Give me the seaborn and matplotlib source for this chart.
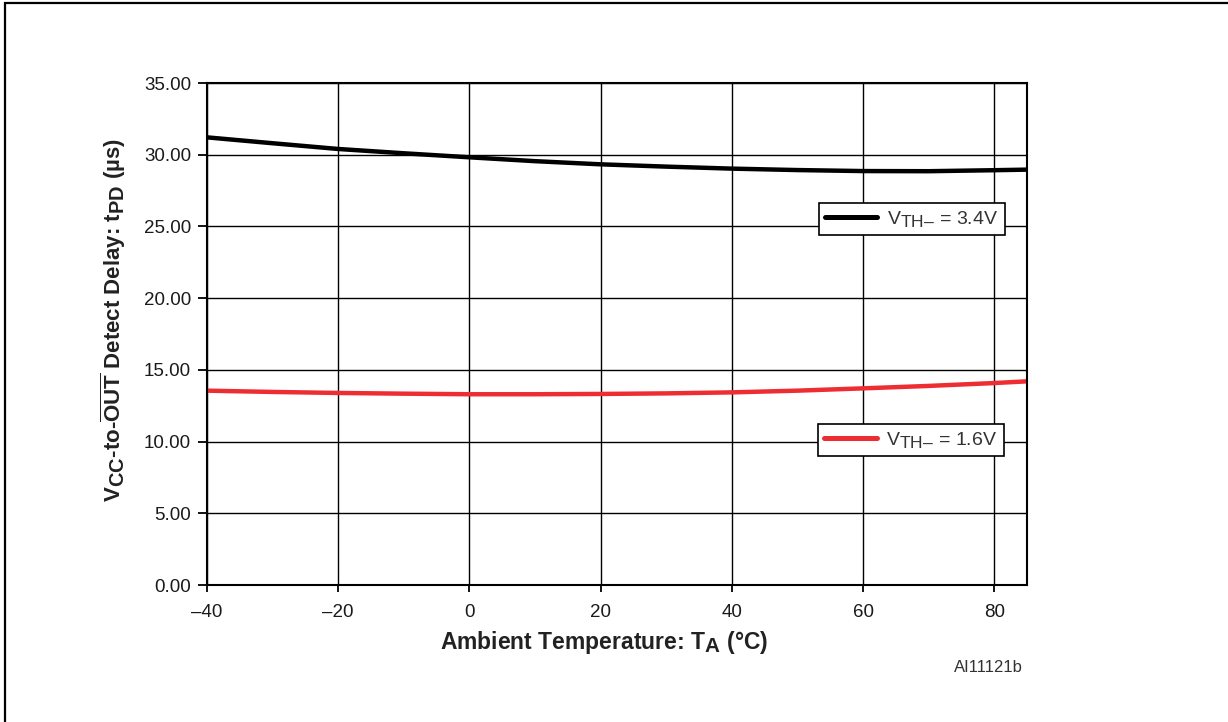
import matplotlib
matplotlib.use("Agg")
import matplotlib.pyplot as plt
import matplotlib.patches as mpatches
import matplotlib._mathtext as _mt
from matplotlib.lines import Line2D
import seaborn as sns
import pandas as pd

# larger subscripts, as in the reference typesetting
_mt.SHRINK_FACTOR = 0.9

# ---- data ----
temps = [-40, -30, -20, -10, 0, 10, 20, 30, 40, 50, 60, 70, 80, 85]
delay_34v = [31.21, 30.80, 30.40, 30.10, 29.82, 29.55, 29.33, 29.17, 29.03, 28.93, 28.86, 28.85, 28.92, 28.96]
delay_16v = [13.55, 13.46, 13.39, 13.34, 13.30, 13.30, 13.32, 13.36, 13.43, 13.55, 13.71, 13.88, 14.08, 14.20]
series_labels = ["$\\mathregular{V_{TH–}}$ = 3.4V", "$\\mathregular{V_{TH–}}$ = 1.6V"]
x_ticks = [-40, -20, 0, 20, 40, 60, 80]
x_tick_labels = ["–40", "–20", "0", "20", "40", "60", "80"]
y_ticks = [0, 5, 10, 15, 20, 25, 30, 35]
y_tick_labels = ["0.00", "5.00", "10.00", "15.00", "20.00", "25.00", "30.00", "35.00"]

df = pd.DataFrame({
    "T": temps * 2,
    "delay": delay_34v + delay_16v,
    "series": [series_labels[0]] * len(temps) + [series_labels[1]] * len(temps),
})

sns.set_style("ticks")
plt.rcParams["font.family"] = ["Liberation Sans", "DejaVu Sans"]
plt.rcParams["mathtext.fontset"] = "custom"
plt.rcParams["mathtext.rm"] = "Liberation Sans"
plt.rcParams["mathtext.it"] = "Liberation Sans:italic"
plt.rcParams["mathtext.bf"] = "Liberation Sans:bold"

colors = {series_labels[0]: "#000000", series_labels[1]: "#ee2d33"}

fig = plt.figure(figsize=(12.28, 7.22), dpi=100)
ax = fig.add_axes([207 / 1228, 1 - 585 / 722, 820 / 1228, 502 / 722])

sns.lineplot(data=df, x="T", y="delay", hue="series", palette=colors,
             linewidth=3.2, legend=False, ax=ax, sort=True)

ax.set_xlim(-40, 85)
ax.set_ylim(0, 35)
ax.set_xticks(x_ticks)
ax.set_xticklabels(x_tick_labels)
ax.set_yticks(y_ticks)
ax.set_yticklabels(y_tick_labels)
ax.grid(True, color="black", linewidth=1.0)
ax.set_axisbelow(True)

for s in ax.spines.values():
    s.set_visible(True)
    s.set_linewidth(1.5)
    s.set_color("black")

ax.tick_params(axis="x", direction="out", length=5, width=1.3, pad=9,
               labelsize=13.5, colors="black")
ax.tick_params(axis="y", direction="out", length=6.5, width=1.3, pad=5,
               labelsize=13.5, colors="black")
for lab in ax.get_xticklabels() + ax.get_yticklabels():
    lab.set_color("#1a1a1a")

ax.set_xlabel(r"Ambient Temperature: $\mathbf{T_A}$ (°C)", fontsize=16.5,
              fontweight="bold", color="#222222")
ax.xaxis.label.set_va("center")
ax.xaxis.set_label_coords(0.484, -0.1155)

ax.set_ylabel(r"$\mathbf{V_{CC}}$-to-$\mathbf{\overline{OUT}}$ Detect Delay: $\mathbf{t_{PD}}$ (µs)",
              fontsize=16, fontweight="bold", color="#222222")
ax.yaxis.label.set_va("center")
ax.yaxis.label.set_ha("center")
ax.yaxis.set_label_coords(-0.1146, 0.528)

# two separate legend boxes
h1 = Line2D([], [], color=colors[series_labels[0]], linewidth=3.6, solid_capstyle="round")
h2 = Line2D([], [], color=colors[series_labels[1]], linewidth=3.6, solid_capstyle="round")
leg_kw = dict(loc="upper left", frameon=True, fancybox=False, framealpha=1,
              edgecolor="black", fontsize=14, handlelength=2.7,
              borderaxespad=0, borderpad=0.32, handletextpad=0.5, labelcolor="#333333")
leg1 = ax.legend([h1], [series_labels[0]], bbox_to_anchor=(0.746, 0.761), **leg_kw)
leg1.get_frame().set_linewidth(1.2)
ax.add_artist(leg1)
leg2 = ax.legend([h2], [series_labels[1]], bbox_to_anchor=(0.745, 0.3207), **leg_kw)
leg2.get_frame().set_linewidth(1.2)

fig.text(1023 / 1228, 1 - 668 / 722, "AI11121b", ha="right", va="center",
         fontsize=12, color="#333333")

# outer frame (only left and top edges visible in the reference)
fig.add_artist(mpatches.Rectangle((5 / 1228, -0.2), 1.5, 1.2 - 3 / 722,
                                  transform=fig.transFigure, fill=False,
                                  edgecolor="black", linewidth=1.6))

fig.savefig("out.png", dpi=100)
